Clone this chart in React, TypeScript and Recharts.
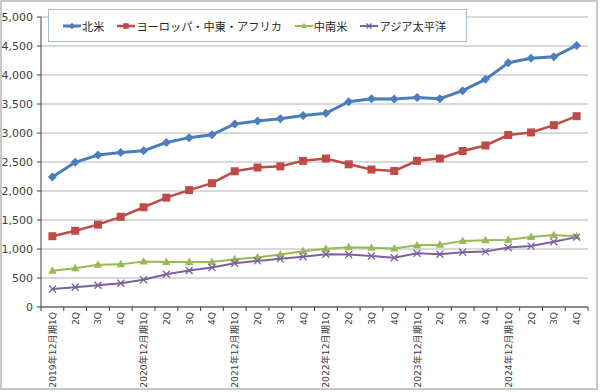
import { LineChart, Line, XAxis, YAxis, CartesianGrid } from 'recharts';

const categories = [
  '2019年12月期1Q', '2Q', '3Q', '4Q',
  '2020年12月期1Q', '2Q', '3Q', '4Q',
  '2021年12月期1Q', '2Q', '3Q', '4Q',
  '2022年12月期1Q', '2Q', '3Q', '4Q',
  '2023年12月期1Q', '2Q', '3Q', '4Q',
  '2024年12月期1Q', '2Q', '3Q', '4Q',
];

const northAmerica = [2240, 2495, 2620, 2665, 2695, 2835, 2920, 2970, 3155, 3205, 3245, 3300, 3340, 3540, 3590, 3585, 3610, 3590, 3730, 3925, 4210, 4290, 4315, 4510];
const emea = [1220, 1315, 1420, 1555, 1720, 1885, 2015, 2135, 2340, 2405, 2425, 2520, 2560, 2460, 2370, 2345, 2520, 2560, 2690, 2785, 2965, 3010, 3135, 3290];
const latam = [625, 670, 730, 735, 785, 775, 775, 775, 825, 855, 905, 960, 1005, 1030, 1020, 1010, 1065, 1075, 1140, 1150, 1160, 1205, 1240, 1220];
const apac = [310, 340, 375, 410, 470, 565, 630, 680, 755, 795, 830, 865, 910, 905, 880, 850, 925, 910, 945, 955, 1025, 1050, 1125, 1205];

const yTicks = [0, 500, 1000, 1500, 2000, 2500, 3000, 3500, 4000, 4500, 5000];

const FONT = '"DejaVu Sans", "Noto Sans CJK JP", sans-serif';
const PLOT_W = 547;
const HALF = PLOT_W / categories.length / 2;

type Kind = 'diamond' | 'square' | 'triangle' | 'x';

const series: { key: string; name: string; color: string; width: number; kind: Kind; values: number[] }[] = [
  { key: 'na', name: '北米', color: '#4a7ebb', width: 3, kind: 'diamond', values: northAmerica },
  { key: 'emea', name: 'ヨーロッパ・中東・アフリカ', color: '#be4b48', width: 2.5, kind: 'square', values: emea },
  { key: 'latam', name: '中南米', color: '#98b954', width: 2, kind: 'triangle', values: latam },
  { key: 'apac', name: 'アジア太平洋', color: '#7d60a0', width: 2, kind: 'x', values: apac },
];

const data = categories.map((cat, i) => {
  const row: Record<string, any> = { cat };
  series.forEach(s => { row[s.key] = s.values[i]; });
  return row;
});

function Marker({ kind, cx, cy, color, k = 1 }: { kind: Kind; cx: number; cy: number; color: string; k?: number }) {
  if (cx == null || cy == null) return null;
  if (kind === 'diamond') {
    const s = 4.5 * k;
    return <polygon points={`${cx},${cy - s} ${cx + s},${cy} ${cx},${cy + s} ${cx - s},${cy}`} fill={color} />;
  }
  if (kind === 'square') {
    const s = 4 * k;
    return <rect x={cx - s} y={cy - s} width={2 * s} height={2 * s} fill={color} />;
  }
  if (kind === 'triangle') {
    return <polygon points={`${cx},${cy - 4.5 * k} ${cx + 4.2 * k},${cy + 3 * k} ${cx - 4.2 * k},${cy + 3 * k}`} fill={color} />;
  }
  const s = 3.5 * k;
  return (
    <g stroke={color} strokeWidth={1.3}>
      <line x1={cx - s} y1={cy - s} x2={cx + s} y2={cy + s} />
      <line x1={cx - s} y1={cy + s} x2={cx + s} y2={cy - s} />
    </g>
  );
}

const XTick = (props: any) => {
  const { x, y, payload, index } = props;
  const ty = y + 5;
  return (
    <g>
      <line x1={x - HALF} y1={y} x2={x - HALF} y2={y + 4} stroke="#404040" />
      {index === categories.length - 1 && (
        <line x1={x + HALF} y1={y} x2={x + HALF} y2={y + 4} stroke="#404040" />
      )}
      <text
        x={x}
        y={ty}
        transform={`rotate(-90, ${x}, ${ty})`}
        textAnchor="end"
        dominantBaseline="central"
        fontSize={9.2}
        fontFamily={FONT}
        fill="#404040"
      >
        {payload.value}
      </text>
    </g>
  );
};

function LegendBox() {
  return (
    <div
      style={{
        position: 'absolute', left: 48, top: 9, width: 403, height: 31,
        border: '1px solid #a9bcd6', background: '#fff',
        display: 'flex', alignItems: 'center', paddingLeft: 14, boxSizing: 'content-box',
        fontFamily: FONT, fontSize: 11.2, color: '#262626', whiteSpace: 'nowrap',
      }}
    >
      {series.map(s => (
        <span key={s.key} style={{ display: 'flex', alignItems: 'center', marginRight: 13, flexShrink: 0 }}>
          <svg width={18} height={12} style={{ marginRight: 1 }}>
            <line x1={0} y1={6} x2={18} y2={6} stroke={s.color} strokeWidth={s.width} />
            <Marker kind={s.kind} cx={9} cy={6} color={s.color} k={0.7} />
          </svg>
          {s.name}
        </span>
      ))}
    </div>
  );
}

export default function App() {
  return (
    <div style={{ position: 'absolute', left: 0, top: 0, width: 600, height: 392, background: '#fff' }}>
      <div
        style={{
          position: 'absolute', left: 0, top: 0, width: 594, height: 386,
          border: '2px solid #c8c8c8',
        }}
      />
      <LineChart
        width={600}
        height={392}
        data={data}
        margin={{ top: 17, right: 12, left: 0, bottom: 0 }}
        style={{ position: 'absolute', left: 0, top: 0 }}
      >
        <CartesianGrid vertical={false} stroke="#b4b4b4" />
        <XAxis
          dataKey="cat"
          interval={0}
          height={85}
          padding={{ left: HALF, right: HALF }}
          tick={<XTick />}
          tickLine={false}
          tickSize={0}
          tickMargin={0}
          axisLine={{ stroke: '#404040' }}
        />
        <YAxis
          domain={[0, 5000]}
          ticks={yTicks}
          width={41}
          tickSize={4}
          tickMargin={4}
          tickLine={{ stroke: '#404040' }}
          axisLine={{ stroke: '#404040' }}
          tick={{ fill: '#404040', fontSize: 11, fontFamily: FONT }}
          tickFormatter={(v: number) => v.toLocaleString('en-US')}
        />
        {series.map(s => (
          <Line
            key={s.key}
            dataKey={s.key}
            name={s.name}
            stroke={s.color}
            strokeWidth={s.width}
            isAnimationActive={false}
            dot={(p: any) => <Marker key={`${s.key}-${p.index}`} kind={s.kind} cx={p.cx} cy={p.cy} color={s.color} />}
            activeDot={false}
          />
        ))}
      </LineChart>
      <LegendBox />
    </div>
  );
}
